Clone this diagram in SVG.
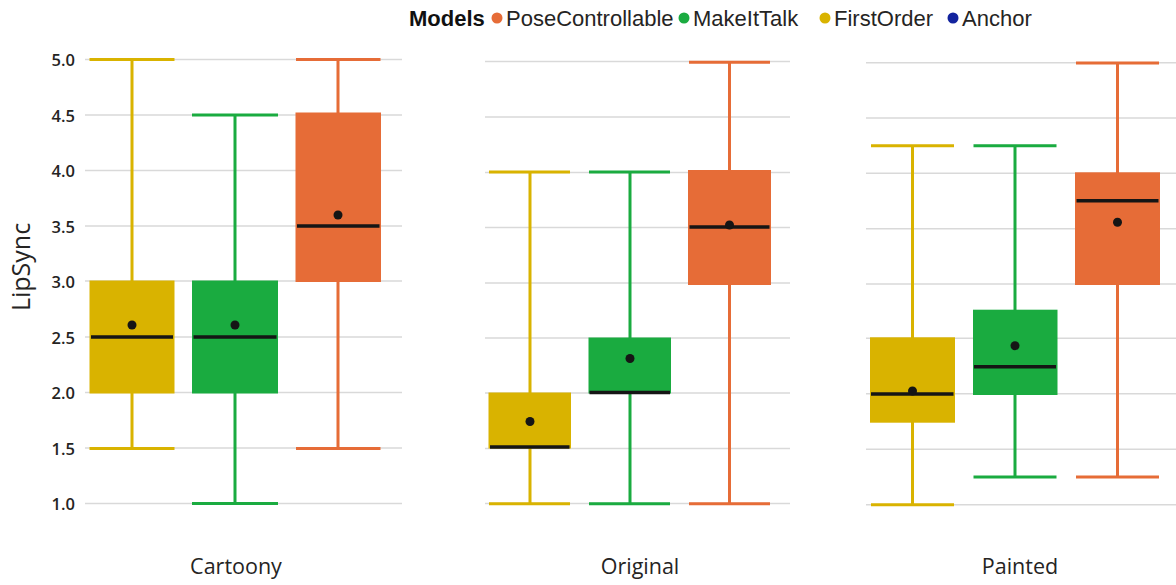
<svg xmlns="http://www.w3.org/2000/svg" width="1176" height="585" viewBox="0 0 1176 585">
  <style>
    .grid { stroke: #d9d9d9; stroke-width: 1.5; fill: none; }
    .tick { font-family: "Open Sans", "Noto Sans", sans-serif; font-weight: 600; font-size: 16.5px; fill: #252423; text-anchor: end; dominant-baseline: central; }
    .axis-title { font-family: "Open Sans", "Noto Sans", sans-serif; font-size: 25px; fill: #252423; text-anchor: middle; }
    .cat { font-family: "Open Sans", "Noto Sans", sans-serif; font-size: 21.5px; fill: #252423; text-anchor: middle; }
    .legend { font-family: "Liberation Sans", Arial, sans-serif; font-size: 22px; fill: #252423; }
    .legend-title { font-weight: bold; fill: #111; }
    .whisker { stroke-width: 3; fill: none; }
    .median { stroke: #151515; stroke-width: 3.5; }
    .mean { fill: #151515; }
    .fo .whisker { stroke: #D9B300; }
    .fo rect { fill: #D9B300; }
    .mit .whisker { stroke: #1AAB40; }
    .mit rect { fill: #1AAB40; }
    .pc .whisker { stroke: #E66C37; }
    .pc rect { fill: #E66C37; }
  </style>

  <!-- legend -->
  <g id="legend" class="legend">
    <text x="409" y="25.5" class="legend-title">Models</text>
    <circle cx="497" cy="18" r="5.5" fill="#E66C37"/>
    <text x="506" y="25.5">PoseControllable</text>
    <circle cx="684" cy="18" r="5.5" fill="#1AAB40"/>
    <text x="693" y="25.5">MakeItTalk</text>
    <circle cx="825" cy="18" r="5.5" fill="#D9B300"/>
    <text x="834" y="25.5">FirstOrder</text>
    <circle cx="953" cy="18" r="5.5" fill="#12239E"/>
    <text x="962" y="25.5">Anchor</text>
  </g>

  <!-- y axis -->
  <g id="y-axis">
    <text class="axis-title" transform="translate(30 267) rotate(-90)">LipSync</text>
    <text class="tick" x="75" y="59.5">5.0</text>
    <text class="tick" x="75" y="115">4.5</text>
    <text class="tick" x="75" y="170.5">4.0</text>
    <text class="tick" x="75" y="226">3.5</text>
    <text class="tick" x="75" y="281">3.0</text>
    <text class="tick" x="75" y="337">2.5</text>
    <text class="tick" x="75" y="392.5">2.0</text>
    <text class="tick" x="75" y="448">1.5</text>
    <text class="tick" x="75" y="503.5">1.0</text>
  </g>

  <!-- gridlines, one set per panel -->
  <g id="gridlines">
    <path class="grid" d="M85 59.5H402M85 115H402M85 170.5H402M85 226H402M85 281H402M85 337H402M85 392.5H402M85 448H402M85 503.5H402"/>
    <path class="grid" d="M485 61.5H790M485 117H790M485 172.5H790M485 227.5H790M485 283H790M485 338H790M485 393H790M485 448.5H790M485 503.5H790"/>
    <path class="grid" d="M866 62.7H1176M866 118H1176M866 173.3H1176M866 228.7H1176M866 284H1176M866 338.3H1176M866 393.7H1176M866 449.3H1176M866 504.7H1176"/>
  </g>

  <!-- category labels -->
  <g id="categories">
    <text class="cat" x="236" y="574">Cartoony</text>
    <text class="cat" x="640" y="574">Original</text>
    <text class="cat" x="1020" y="574">Painted</text>
  </g>

  <!-- Cartoony panel -->
  <g id="cartoony-firstorder" class="fo">
    <path class="whisker" d="M132 59.5V448.5M89.5 59.5H174.5M89.5 448.5H174.5"/>
    <rect x="89.5" y="280.5" width="85" height="113"/>
    <line class="median" x1="91" y1="337" x2="173" y2="337"/>
    <circle class="mean" cx="132" cy="325" r="4.5"/>
  </g>
  <g id="cartoony-makeittalk" class="mit">
    <path class="whisker" d="M235 115V503.5M192 115H278M192 503.5H278"/>
    <rect x="192" y="280.5" width="86" height="113"/>
    <line class="median" x1="193.5" y1="337" x2="276.5" y2="337"/>
    <circle class="mean" cx="235" cy="325" r="4.5"/>
  </g>
  <g id="cartoony-posecontrollable" class="pc">
    <path class="whisker" d="M338 59.5V448.5M296 59.5H380.5M296 448.5H380.5"/>
    <rect x="295.5" y="112.5" width="85.5" height="169.5"/>
    <line class="median" x1="297" y1="226" x2="379.5" y2="226"/>
    <circle class="mean" cx="338" cy="215" r="4.5"/>
  </g>

  <!-- Original panel -->
  <g id="original-firstorder" class="fo">
    <path class="whisker" d="M530 172V503.7M489 172H570M489 503.7H570"/>
    <rect x="488.5" y="392.5" width="82.5" height="56"/>
    <line class="median" x1="490" y1="447" x2="569.5" y2="447"/>
    <circle class="mean" cx="530" cy="421.5" r="4.5"/>
  </g>
  <g id="original-makeittalk" class="mit">
    <path class="whisker" d="M630 172V503.7M589 172H670M589 503.7H670"/>
    <rect x="588.5" y="337.5" width="82.5" height="56"/>
    <line class="median" x1="589.5" y1="392.5" x2="670" y2="392.5"/>
    <circle class="mean" cx="630" cy="358.5" r="4.5"/>
  </g>
  <g id="original-posecontrollable" class="pc">
    <path class="whisker" d="M729.5 62.3V503.7M689 62.3H770M689 503.7H770"/>
    <rect x="688" y="170" width="83" height="115"/>
    <line class="median" x1="689.5" y1="227" x2="769.5" y2="227"/>
    <circle class="mean" cx="729.5" cy="225" r="4.5"/>
  </g>

  <!-- Painted panel -->
  <g id="painted-firstorder" class="fo">
    <path class="whisker" d="M912.5 145.7V504.7M871 145.7H954M871 504.7H954"/>
    <rect x="870" y="337.3" width="85" height="85.4"/>
    <line class="median" x1="871" y1="394" x2="953.5" y2="394"/>
    <circle class="mean" cx="912.5" cy="391" r="4.5"/>
  </g>
  <g id="painted-makeittalk" class="mit">
    <path class="whisker" d="M1015 145.7V477M973.5 145.7H1056.5M973.5 477H1056.5"/>
    <rect x="973" y="309.7" width="84.5" height="85.3"/>
    <line class="median" x1="974" y1="366.7" x2="1056" y2="366.7"/>
    <circle class="mean" cx="1015" cy="345.7" r="4.5"/>
  </g>
  <g id="painted-posecontrollable" class="pc">
    <path class="whisker" d="M1117.5 63V477M1076 63H1159M1076 477H1159"/>
    <rect x="1075" y="172.3" width="85" height="112.7"/>
    <line class="median" x1="1076.5" y1="200.7" x2="1158.5" y2="200.7"/>
    <circle class="mean" cx="1117.5" cy="222.3" r="4.5"/>
  </g>
</svg>
